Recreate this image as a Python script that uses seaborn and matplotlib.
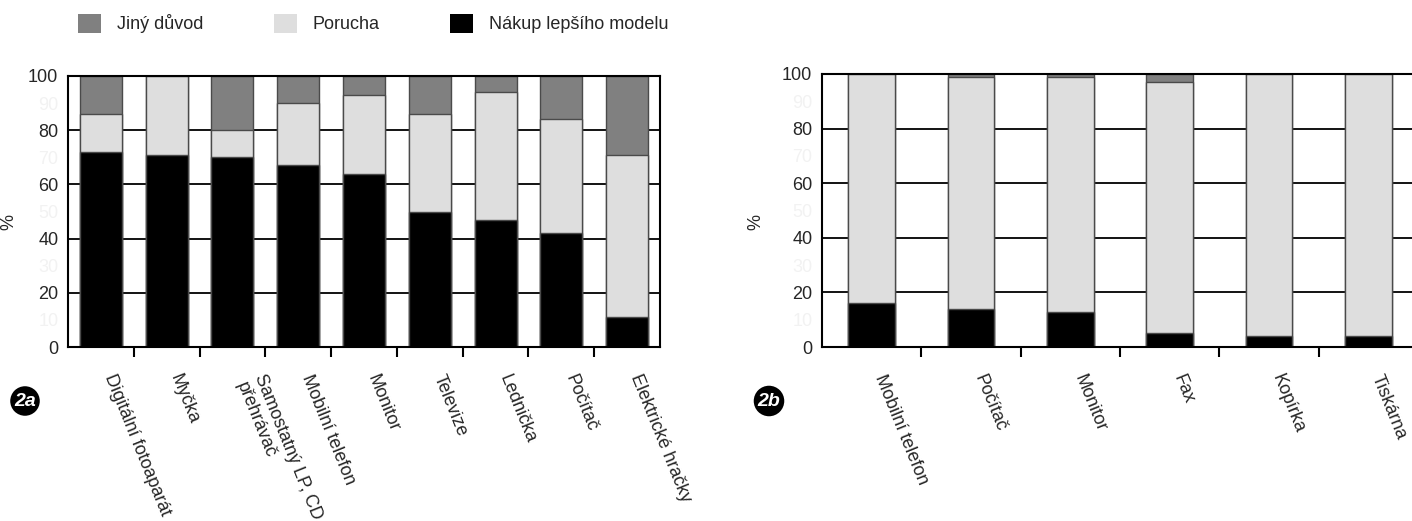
import numpy as np
import pandas as pd
import matplotlib
matplotlib.use("Agg")
import matplotlib.pyplot as plt
from matplotlib.patches import Patch
import seaborn as sns

sns.set_style("white")
plt.rcParams["font.family"] = ["Liberation Sans", "DejaVu Sans"]

# --- data -------------------------------------------------------------
series_names = ["Jiný důvod", "Porucha", "Nákup lepšího modelu"]
series_colors = ["#808080", "#dedede", "#000000"]

cats_a = ["Digitální fotoaparát", "Myčka", "Samostatný LP, CD\npřehrávač",
          "Mobilní telefon", "Monitor", "Televize", "Lednička", "Počítač",
          "Elektrické hračky"]
better_a = [72, 71, 70, 67, 64, 50, 47, 42, 11]
fault_a = [14, 29, 10, 23, 29, 36, 47, 42, 60]
other_a = [14, 0, 20, 10, 7, 14, 6, 16, 29]

cats_b = ["Mobilní telefon", "Počítač", "Monitor", "Fax", "Kopírka", "Tiskárna"]
better_b = [16, 14, 13, 5, 4, 4]
fault_b = [84, 85, 86, 92, 96, 96]
other_b = [0, 1, 1, 3, 0, 0]

major_y = [0, 20, 40, 60, 80, 100]
minor_y = [10, 30, 50, 70, 90]

FS = 13


def stacked(ax, cats, better, fault, other, width, badge, badge_xy):
    df = pd.DataFrame({"cat": cats, "better": better,
                       "fault": fault, "other": other})
    df["top_fault"] = df["better"] + df["fault"]
    df["top_other"] = df["top_fault"] + df["other"]
    layers = [("top_other", series_colors[0]),
              ("top_fault", series_colors[1]),
              ("better", series_colors[2])]
    for col, colr in layers:
        sns.barplot(data=df, x="cat", y=col, color=colr, saturation=1,
                    width=width, edgecolor="#4a4a4a", linewidth=1.0,
                    errorbar=None, ax=ax)
    n = len(cats)
    ax.set_xlim(-0.5, n - 0.5)
    ax.set_ylim(0, 100)
    ax.set_axisbelow(True)
    ax.yaxis.grid(True, color="black", linewidth=1.3)
    ax.xaxis.grid(False)
    for s in ax.spines.values():
        s.set_visible(True)
        s.set_color("black")
        s.set_linewidth(1.5)

    # category boundaries carry the tick marks, centres carry the names
    ax.set_xticks(np.arange(n - 1) + 0.5, labels=[])
    ax.set_xticks(np.arange(n), labels=cats, minor=True)
    ax.tick_params(axis="x", which="major", length=7, width=1.5,
                   direction="out", color="black", bottom=True)
    ax.tick_params(axis="x", which="minor", length=0, pad=18, labelsize=FS)
    for lab in ax.get_xticklabels(minor=True):
        lab.set_rotation(-68)
        lab.set_ha("left")
        lab.set_va("top")

    ax.set_yticks(major_y, labels=[str(v) for v in major_y])
    ax.set_yticks(minor_y, labels=[str(v) for v in minor_y], minor=True)
    ax.tick_params(axis="y", which="major", length=0, pad=7, labelsize=FS,
                   left=True)
    ax.tick_params(axis="y", which="minor", length=0, pad=7, labelsize=FS,
                   labelcolor="#f2f2f2", left=True)
    ax.set_xlabel("")
    ax.set_ylabel("%", fontsize=FS)

    fig.text(badge_xy[0], badge_xy[1], badge, ha="center", va="center",
             color="white", fontsize=14, fontweight="bold",
             fontstyle="italic",
             bbox=dict(boxstyle="circle,pad=0.2", fc="black", ec="none"))


W, H = 1412, 521
fig = plt.figure(figsize=(W / 100, H / 100), dpi=100)

ax_a = fig.add_axes([68 / W, 1 - 347 / H, 592 / W, 271 / H])
ax_b = fig.add_axes([822 / W, 1 - 347 / H, 596 / W, 273 / H])

stacked(ax_a, cats_a, better_a, fault_a, other_a, 0.64, "2a",
        (25 / W, 1 - 401 / H))
stacked(ax_b, cats_b, better_b, fault_b, other_b, 0.47, "2b",
        (769 / W, 1 - 401 / H))

ax_a.yaxis.set_label_coords(-0.085, 0.46)
ax_b.yaxis.set_label_coords(-0.096, 0.458)

handles = [Patch(facecolor=c, edgecolor="none") for c in series_colors]
fig.legend(handles, series_names, loc="center left",
           bbox_to_anchor=(78 / W, 1 - 23.5 / H), frameon=False, ncol=3,
           fontsize=FS, borderpad=0, borderaxespad=0,
           handlelength=1.27, handleheight=1.27, handletextpad=0.89,
           columnspacing=3.9)

fig.savefig("out.png", dpi=100)
